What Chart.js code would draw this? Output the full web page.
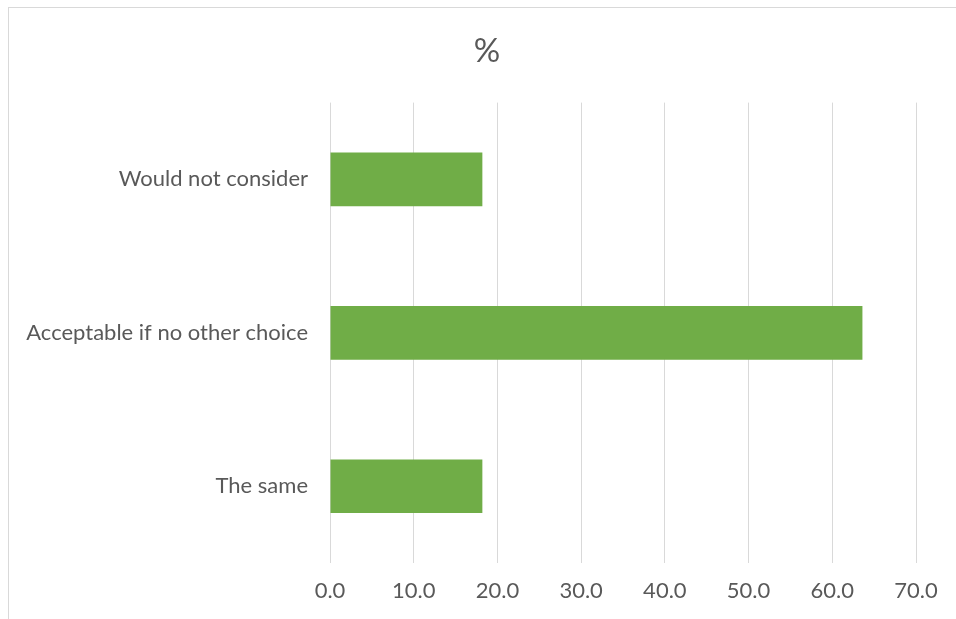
<!DOCTYPE html>
<html>
<head>
<meta charset="utf-8">
<script src="https://cdn.jsdelivr.net/npm/chart.js@4"></script>
<style>
  html, body { margin: 0; padding: 0; background: #fff; overflow: hidden; }
  #wrap { position: relative; width: 956px; height: 619px; }
  #frame { position: absolute; left: 8px; top: 7px; width: 960px; height: 620px; border-left: 1px solid #d9d9d9; border-top: 1px solid #d9d9d9; }
  canvas { position: absolute; left: 0; top: 0; }
</style>
</head>
<body>
<div id="wrap">
  <div id="frame"></div>
  <canvas id="chart" width="956" height="619"></canvas>
</div>
<script>
const categories = ['Would not consider', 'Acceptable if no other choice', 'The same'];
const percentValues = [18.2, 63.6, 18.2];
const xTicks = [0, 10, 20, 30, 40, 50, 60, 70];

const textColor = '#595959';
const fontFamily = 'Lato, "Open Sans", sans-serif';

const chart = new Chart(document.getElementById('chart').getContext('2d'), {
  type: 'bar',
  data: {
    labels: categories,
    datasets: [{
      label: '%',
      data: percentValues,
      backgroundColor: '#70ad47',
      borderWidth: 0,
      barPercentage: 0.7,
      categoryPercentage: 0.5
    }]
  },
  options: {
    indexAxis: 'y',
    responsive: false,
    animation: false,
    layout: { padding: { left: 18, right: 0, top: 0, bottom: 0 } },
    plugins: {
      legend: { display: false },
      tooltip: { enabled: false },
      title: {
        display: true,
        text: '%',
        color: textColor,
        font: { family: fontFamily, size: 33, weight: 'normal' },
        padding: { top: 32, bottom: 31 }
      }
    },
    scales: {
      x: {
        min: 0,
        max: 70,
        afterBuildTicks: (axis) => { axis.ticks = xTicks.map((v) => ({ value: v })); },
        afterFit: (axis) => { axis.height = 56; },
        border: { display: false },
        grid: { color: '#d9d9d9', lineWidth: 1, drawTicks: false },
        ticks: {
          color: textColor,
          font: { family: fontFamily, size: 22 },
          padding: 15,
          callback: (v) => Number(v).toFixed(1)
        }
      },
      y: {
        afterFit: (axis) => { axis.width = 312; },
        border: { display: false },
        grid: { display: false, drawTicks: false },
        ticks: {
          color: textColor,
          font: { family: fontFamily, size: 22 },
          padding: 22
        }
      },
      yRight: {
        axis: 'y',
        type: 'category',
        position: 'right',
        afterFit: (axis) => { axis.width = 40; },
        border: { display: false },
        grid: { display: false, drawTicks: false },
        ticks: { display: false }
      }
    }
  }
});
</script>
</body>
</html>
